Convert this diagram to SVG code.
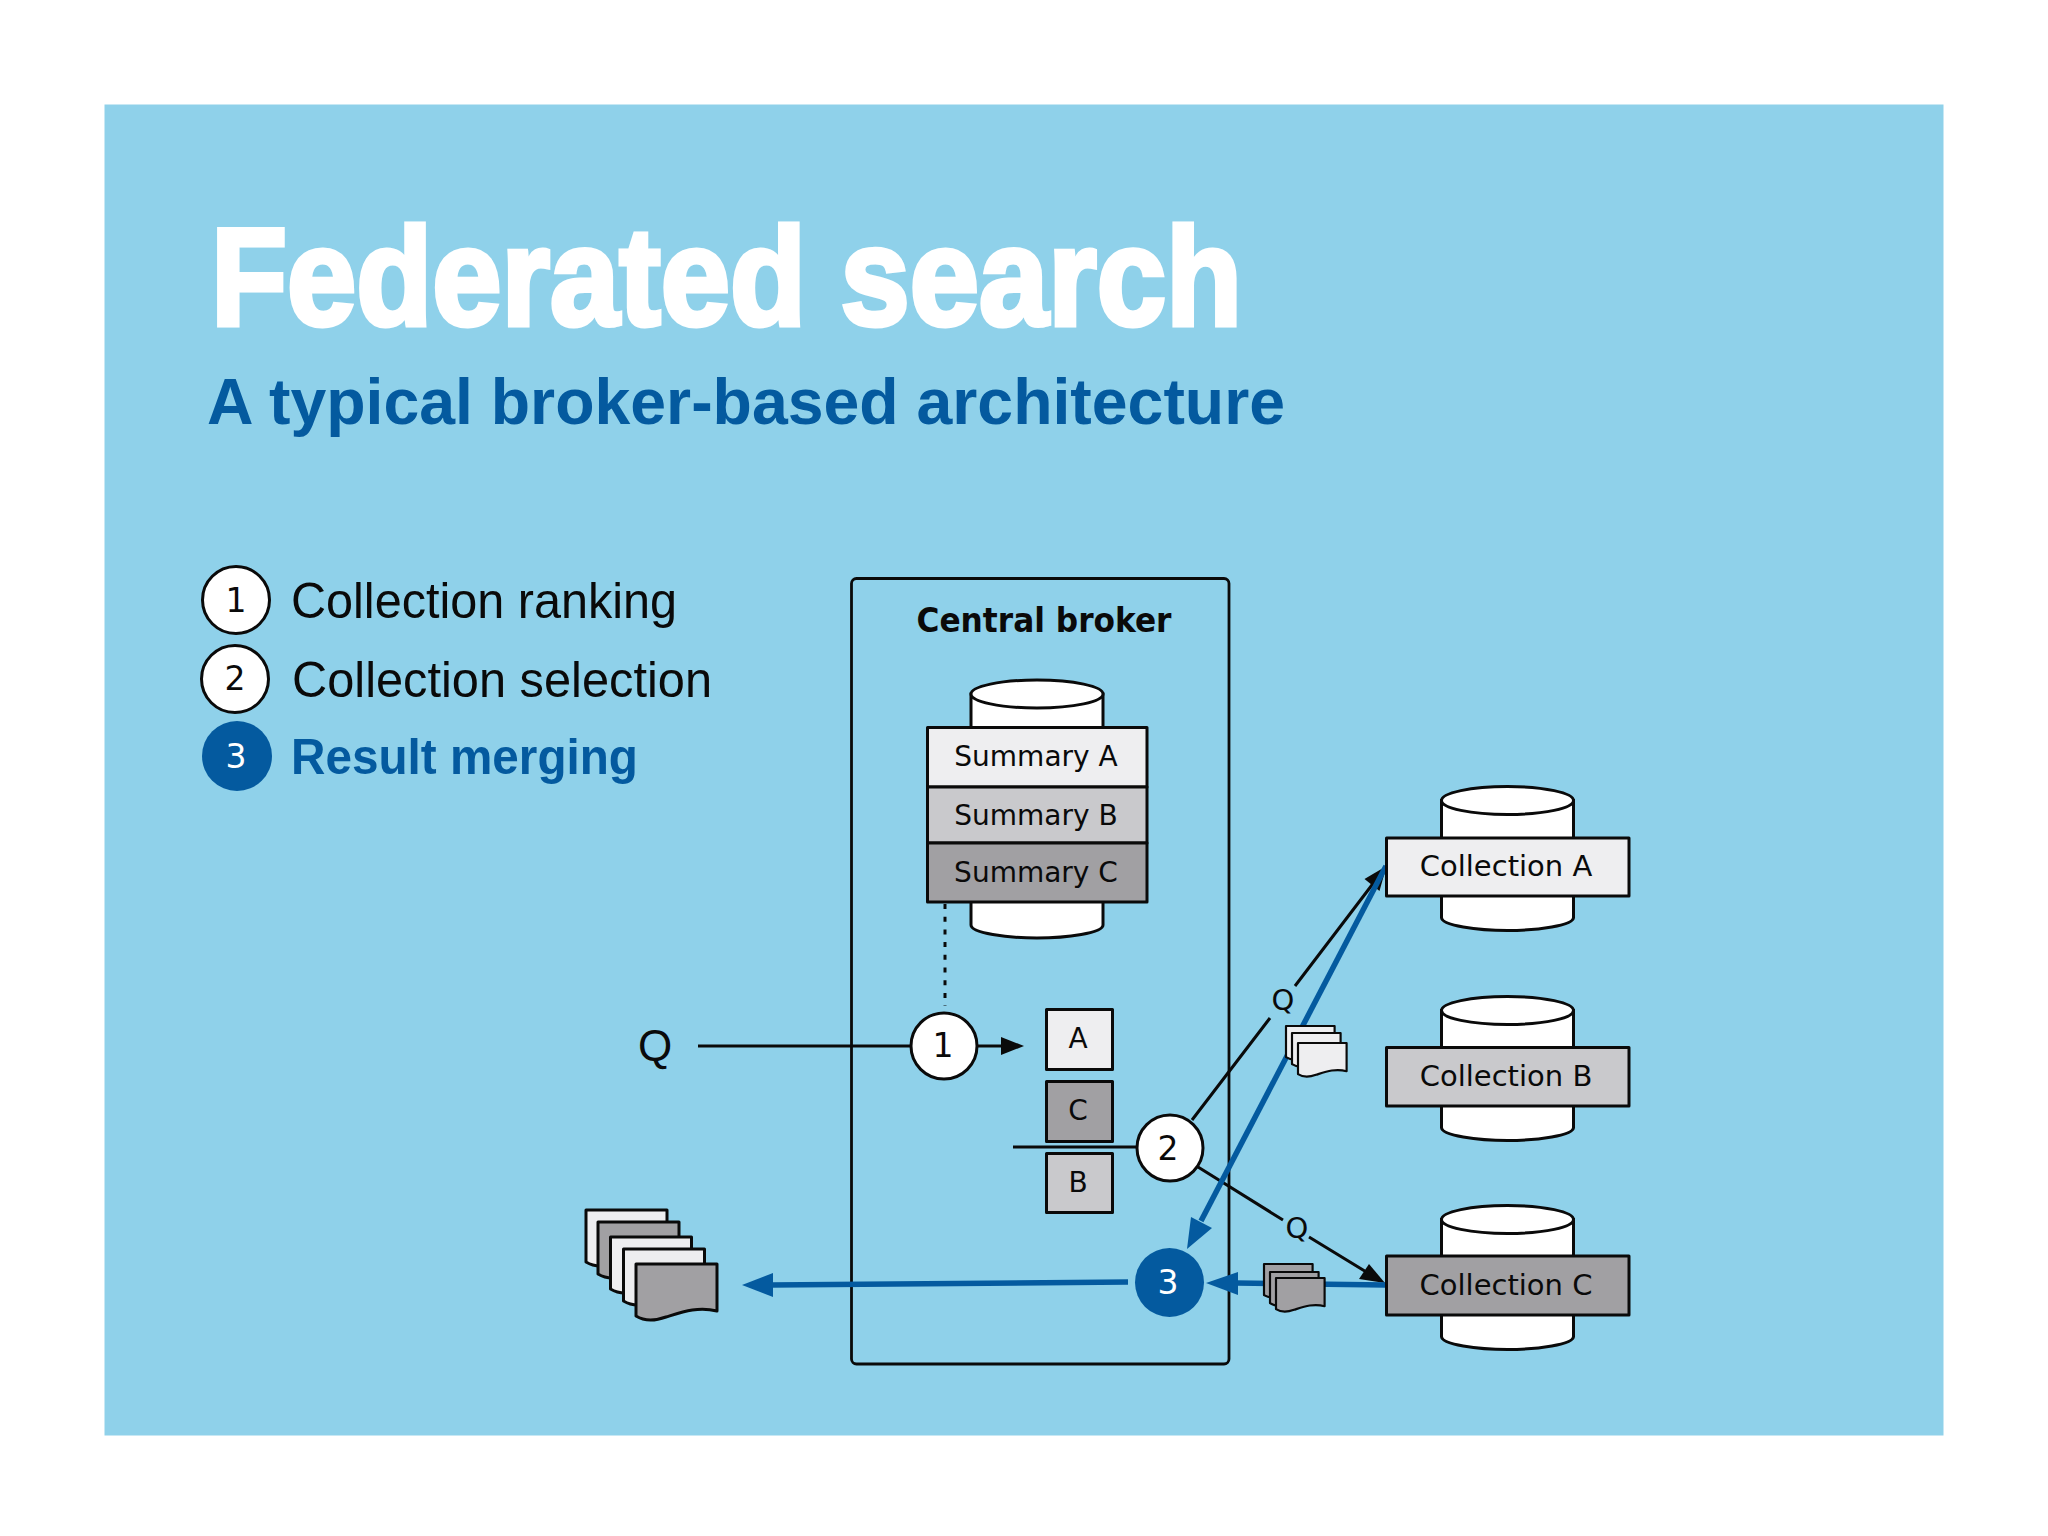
<svg xmlns="http://www.w3.org/2000/svg" width="2048" height="1536" viewBox="0 0 2048 1536">
<style>
.d{font-family:"DejaVu Sans",sans-serif;fill:#0a0a0a;text-anchor:middle;font-size:28px}
.e{font-size:29px}
.n{font-size:33px}
.l{font-family:"Liberation Sans",Arial,sans-serif;font-size:50px;fill:#0a0a0a}
.b{font-weight:700;fill:#045a9f}
.s{stroke:#0a0a0a;stroke-width:3;stroke-linejoin:round}
.c{stroke:#0a0a0a;stroke-width:3;fill:#fff}
.w{fill:#eeeef0}.g{fill:#c9c9cc}.k{fill:#a1a0a3}
.line{stroke:#0a0a0a;stroke-width:3;fill:none}
.blue{stroke:#045a9f;stroke-width:5.5;fill:none}
.sm{stroke-width:3.6}
</style>
<defs>
<path id="doc" d="M0 0H81V47C62 42 46 48 30 53C19 57 8 57 0 52Z"/>
<path id="cyl" d="M-66 0V117C-66 125 -30 130 0 130C30 130 66 125 66 117V0Z"/>
<path id="cyl-tall" d="M-66 0V231C-66 239 -30 244 0 244C30 244 66 239 66 231V0Z"/>
</defs>
<rect width="2048" height="1536" fill="#fff"/>
<rect id="panel" x="104.500" y="104.500" width="1839" height="1331" fill="#8fd1ea"/>
<g id="title">
<text x="211" y="325" font-family="Liberation Sans, Arial, sans-serif" font-weight="700" font-size="139" fill="#fff" stroke="#fff" stroke-width="5" textLength="1031" lengthAdjust="spacingAndGlyphs">Federated search</text>
<text x="207" y="424" font-family="Liberation Sans, Arial, sans-serif" font-weight="700" font-size="64" fill="#045a9f" textLength="1078" lengthAdjust="spacingAndGlyphs">A typical broker-based architecture</text>
</g>
<g id="legend">
<g id="legend-1"><circle class="c" cx="236" cy="600" r="33.500"/><text class="d n" x="236" y="612">1</text><text class="l" x="291" y="618" textLength="386" lengthAdjust="spacingAndGlyphs">Collection ranking</text></g>
<g id="legend-2"><circle class="c" cx="235" cy="679" r="33.500"/><text class="d n" x="235" y="690">2</text><text class="l" x="292" y="697" textLength="420" lengthAdjust="spacingAndGlyphs">Collection selection</text></g>
<g id="legend-3"><circle cx="237" cy="756" r="35" fill="#045a9f"/><text class="d n" x="236" y="768" style="fill:#fff">3</text><text class="l b" x="291" y="774" textLength="347" lengthAdjust="spacingAndGlyphs">Result merging</text></g>
</g>
<g id="central-broker">
<rect x="851.500" y="578.500" width="377.500" height="785.500" rx="5" fill="none" stroke="#0a0a0a" stroke-width="2.800"/>
<text class="d" x="1044" y="632" textLength="255" lengthAdjust="spacingAndGlyphs" style="font-size:33px;font-weight:700">Central broker</text>
</g>
<g id="summary-store">
<g transform="translate(1037 694)"><use href="#cyl-tall" class="c"/><ellipse rx="66" ry="14" class="c"/></g>
<rect class="s w" x="927.500" y="727.500" width="219.500" height="59.500"/>
<rect class="s g" x="927.500" y="787" width="219.500" height="56"/>
<rect class="s k" x="927.500" y="843" width="219.500" height="59"/>
<text class="d" x="1036" y="766">Summary A</text>
<text class="d" x="1036" y="825">Summary B</text>
<text class="d" x="1036" y="882">Summary C</text>
</g>
<g id="ranked-list">
<g id="rank-a"><rect class="s w" x="1046.500" y="1009.500" width="66" height="60"/><text class="d" x="1078" y="1048">A</text></g>
<g id="rank-c"><rect class="s k" x="1046.500" y="1081.500" width="66" height="60"/><text class="d" x="1078" y="1120">C</text></g>
<g id="rank-b"><rect class="s g" x="1046.500" y="1153.500" width="66" height="59"/><text class="d" x="1078" y="1192">B</text></g>
</g>
<g id="connectors">
<path class="line" d="M698 1046H911"/>
<path class="line" stroke-dasharray="5 7.700" d="M945 904V1006"/>
<path class="line" d="M978 1046H1004"/><path d="M1001 1037L1024 1046L1001 1055Z" fill="#0a0a0a"/>
<path class="line" d="M1013 1147H1137"/>
<path class="line" d="M1192 1120L1270 1018M1295 986L1375 881"/><path d="M1386.500 866L1364.500 879L1379.500 891Z" fill="#0a0a0a"/>
<path class="line" d="M1198 1167L1283 1220M1309 1237L1368 1273"/><path d="M1385 1283L1369 1264L1359 1279Z" fill="#0a0a0a"/>
<path class="blue" d="M1386 866L1201 1221"/><path d="M1187 1249L1191 1217L1212 1228Z" fill="#045a9f"/>
<path class="blue" d="M1386 1285L1236 1283"/><path d="M1206 1283L1238 1272V1295Z" fill="#045a9f"/>
<path class="blue" d="M1128 1282L771 1285"/><path d="M742 1285L773 1273V1297Z" fill="#045a9f"/>
</g>
<g id="step-1"><circle class="c" cx="944" cy="1046" r="33"/><text class="d n" x="943" y="1057">1</text></g>
<g id="step-2"><circle class="c" cx="1170" cy="1148" r="33"/><text class="d n" x="1168" y="1160">2</text></g>
<g id="step-3"><circle cx="1169.500" cy="1282.500" r="34.500" fill="#045a9f"/><text class="d n" x="1168" y="1294" style="fill:#fff">3</text></g>
<g id="query-labels">
<text x="655" y="1061" font-family="Liberation Sans, Arial, sans-serif" font-size="44" text-anchor="middle" fill="#0a0a0a">Q</text>
<text class="d e" x="1283" y="1010">Q</text>
<text class="d e" x="1297" y="1238">Q</text>
</g>
<g id="collection-a">
<g transform="translate(1507.500 800.500)"><use href="#cyl" class="c"/><ellipse rx="66" ry="14" class="c"/></g>
<rect class="s w" x="1386.500" y="838" width="242.500" height="58"/><text class="d e" x="1506" y="876">Collection A</text>
</g>
<g id="collection-b">
<g transform="translate(1507.500 1010.500)"><use href="#cyl" class="c"/><ellipse rx="66" ry="14" class="c"/></g>
<rect class="s g" x="1386.500" y="1047.500" width="242.500" height="58.500"/><text class="d e" x="1506" y="1086">Collection B</text>
</g>
<g id="collection-c">
<g transform="translate(1507.500 1219.500)"><use href="#cyl" class="c"/><ellipse rx="66" ry="14" class="c"/></g>
<rect class="s k" x="1386.500" y="1256" width="242.500" height="59"/><text class="d e" x="1506" y="1295">Collection C</text>
</g>
<g id="results-a">
<use href="#doc" class="s sm w" transform="translate(1286 1026) scale(.6)"/>
<use href="#doc" class="s sm w" transform="translate(1292 1033) scale(.6)"/>
<use href="#doc" class="s sm w" transform="translate(1298 1043) scale(.6)"/>
</g>
<g id="results-c">
<use href="#doc" class="s sm k" transform="translate(1264 1264) scale(.6)"/>
<use href="#doc" class="s sm k" transform="translate(1270 1272) scale(.6)"/>
<use href="#doc" class="s sm k" transform="translate(1276 1278) scale(.6)"/>
</g>
<g id="merged-results">
<use href="#doc" class="s w" transform="translate(586 1210)"/>
<use href="#doc" class="s k" transform="translate(598 1222)"/>
<use href="#doc" class="s w" transform="translate(610.500 1237)"/>
<use href="#doc" class="s w" transform="translate(623.500 1249)"/>
<use href="#doc" class="s k" transform="translate(636 1264)"/>
</g>
</svg>
